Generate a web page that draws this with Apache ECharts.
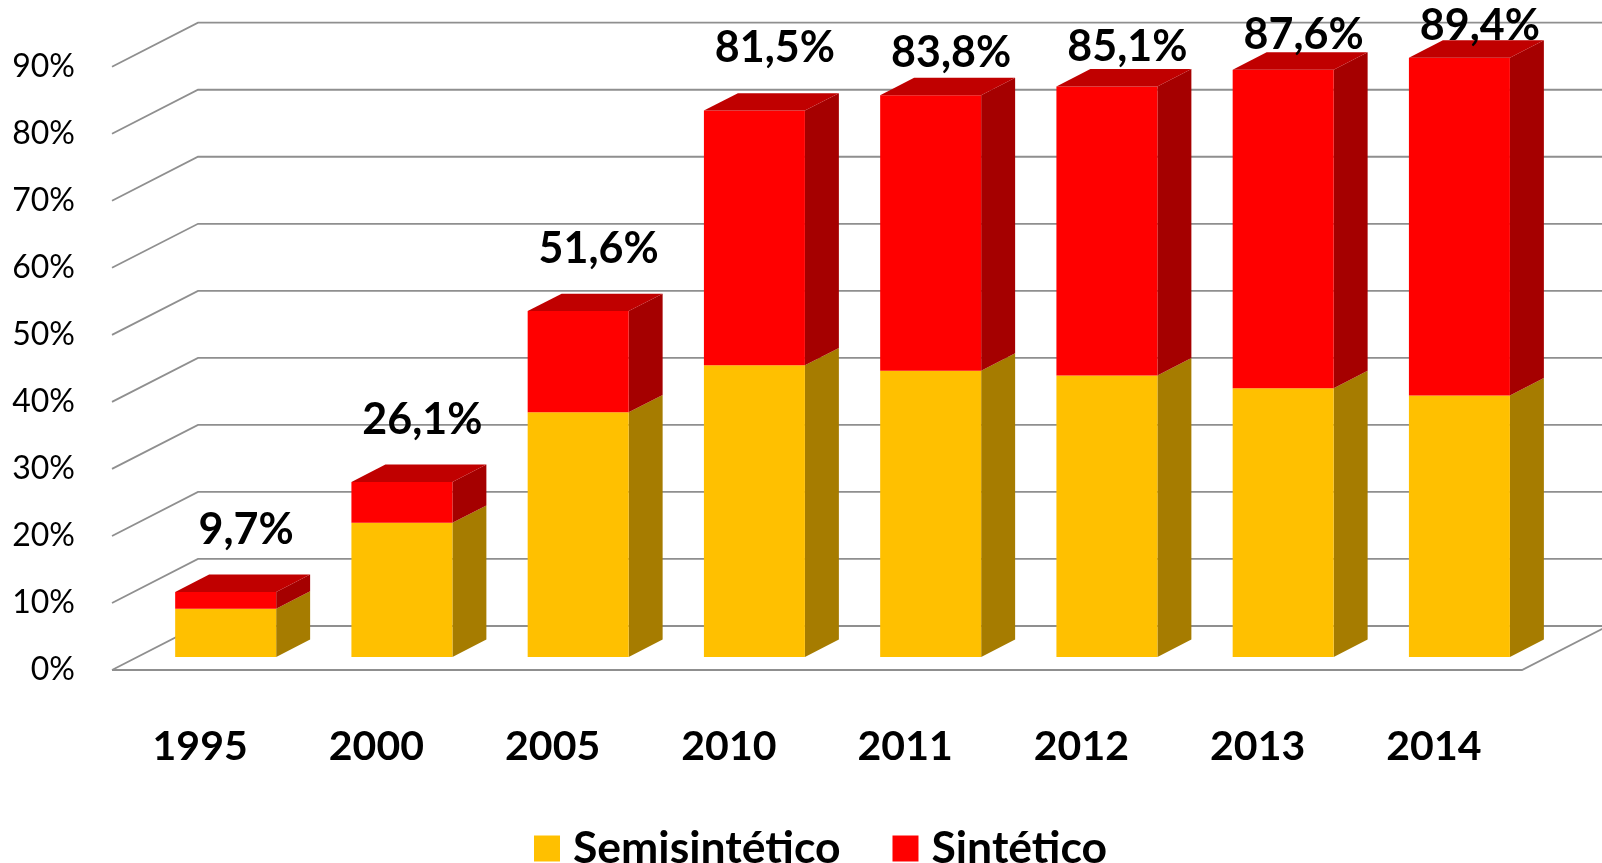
<!DOCTYPE html>
<html>
<head>
<meta charset="utf-8">
<script src="https://cdn.jsdelivr.net/npm/echarts@6/dist/echarts.min.js"></script>
<style>html,body{margin:0;padding:0;background:#fff;}#chart{width:1602px;height:863px;}</style>
</head>
<body>
<div id="chart"></div>
<script>
const categories = ['1995', '2000', '2005', '2010', '2011', '2012', '2013', '2014'];
const semisintetico = [7.2, 20.0, 36.5, 43.5, 42.7, 42.0, 40.1, 39.0];
const sintetico = [2.5, 6.1, 15.1, 38.0, 41.1, 43.1, 47.5, 50.4];
const yTicks = [0, 10, 20, 30, 40, 50, 60, 70, 80, 90];

// 3D projection constants (pixels / fractions)
const DX = 86, DY = 44;          // full floor depth
const BAR_FRONT = 0.297;         // bar front face position within the depth
const BAR_DEPTH = 0.395;         // bar depth as a fraction of full depth
const BAR_W = 0.573;             // bar width as a fraction of the band
const FONT = 'Lato, "Open Sans", sans-serif';

function fmt(v) { return v.toFixed(1).replace('.', ',') + '%'; }

function barShape(api, i, vBase, vTop, colors, drawTop) {
  const cx = api.coord([i, 0])[0];
  const band = api.size([1, 0])[0];
  const fx = DX * BAR_FRONT, fy = DY * BAR_FRONT;
  const dx = DX * BAR_DEPTH, dy = DY * BAR_DEPTH;
  const bw = band * BAR_W;
  const left = cx + fx - bw / 2, right = left + bw;
  const bottom = api.coord([i, vBase])[1] - fy;
  const top = api.coord([i, vTop])[1] - fy;
  const children = [
    { type: 'polygon', shape: { points: [[right, bottom], [right + dx, bottom - dy], [right + dx, top - dy], [right, top]] }, style: { fill: colors.side } },
    { type: 'rect', shape: { x: left, y: top, width: bw, height: bottom - top }, style: { fill: colors.front } }
  ];
  if (drawTop) {
    children.push({ type: 'polygon', shape: { points: [[left, top], [right, top], [right + dx, top - dy], [left + dx, top - dy]] }, style: { fill: colors.top } });
  }
  return { children, left, right, top, cx };
}

const chart = echarts.init(document.getElementById('chart'));
const option = {
  animation: false,
  backgroundColor: '#ffffff',
  grid: { left: 112, right: 80, top: 66.7, bottom: 193 },
  xAxis: {
    type: 'category',
    data: categories,
    axisLine: { show: false },
    axisTick: { show: false },
    axisLabel: { margin: 56, fontFamily: FONT, fontWeight: 'bold', fontSize: 41, color: '#000' }
  },
  yAxis: {
    type: 'value', min: 0, max: 90, interval: 10,
    axisLine: { show: false }, axisTick: { show: false }, splitLine: { show: false },
    axisLabel: { margin: 37, fontFamily: FONT, fontSize: 32, color: '#000', formatter: '{value}%' }
  },
  legend: {
    data: ['Semisintético', 'Sintético'],
    left: 529, top: 821,
    icon: 'rect', itemWidth: 26, itemHeight: 26, itemGap: 52,
    textStyle: { fontFamily: FONT, fontWeight: 'bold', fontSize: 44.5, color: '#000', padding: [0, 0, 0, 8] }
  },
  series: [
    {
      type: 'custom', name: 'grid', z: 1, silent: true,
      data: yTicks.map(v => [0, v]),
      renderItem: function (params, api) {
        const cs = params.coordSys;
        const v = api.value(1);
        const y = api.coord([0, v])[1];
        const x0 = cs.x, x1 = cs.x + cs.width;
        const st = { stroke: '#8f8f8f', lineWidth: 1.8, fill: null };
        const ch = [{ type: 'polyline', shape: { points: [[x0, y], [x0 + DX, y - DY], [1620, y - DY]] }, style: st }];
        if (v === 0) {
          ch.push({ type: 'polyline', shape: { points: [[x0, y], [x1, y], [x1 + DX, y - DY]] }, style: st });
        }
        return { type: 'group', children: ch };
      }
    },
    {
      type: 'custom', name: 'Semisintético', z: 2,
      itemStyle: { color: '#FFC000' },
      data: categories.map((c, i) => [i, semisintetico[i]]),
      renderItem: function (params, api) {
        const i = api.value(0);
        const b = barShape(api, i, 0, api.value(1), { front: '#FFC000', side: '#A67C00', top: '#CC9A00' }, false);
        return { type: 'group', children: b.children };
      }
    },
    {
      type: 'custom', name: 'Sintético', z: 3,
      itemStyle: { color: '#FF0000' },
      data: categories.map((c, i) => [i, semisintetico[i], semisintetico[i] + sintetico[i]]),
      renderItem: function (params, api) {
        const i = api.value(0);
        const base = api.value(1), total = api.value(2);
        const b = barShape(api, i, base, total, { front: '#FF0000', side: '#A50000', top: '#C00000' }, true);
        let ly = b.top - 62;
        if (ly < 45) ly = 0.72 * b.top - 15;
        b.children.push({
          type: 'text',
          style: {
            text: fmt(total), x: b.cx + 46, y: ly,
            align: 'center', verticalAlign: 'middle',
            font: 'bold 43px ' + FONT, fill: '#000'
          }
        });
        return { type: 'group', children: b.children };
      }
    }
  ]
};
chart.setOption(option);
</script>
</body>
</html>
